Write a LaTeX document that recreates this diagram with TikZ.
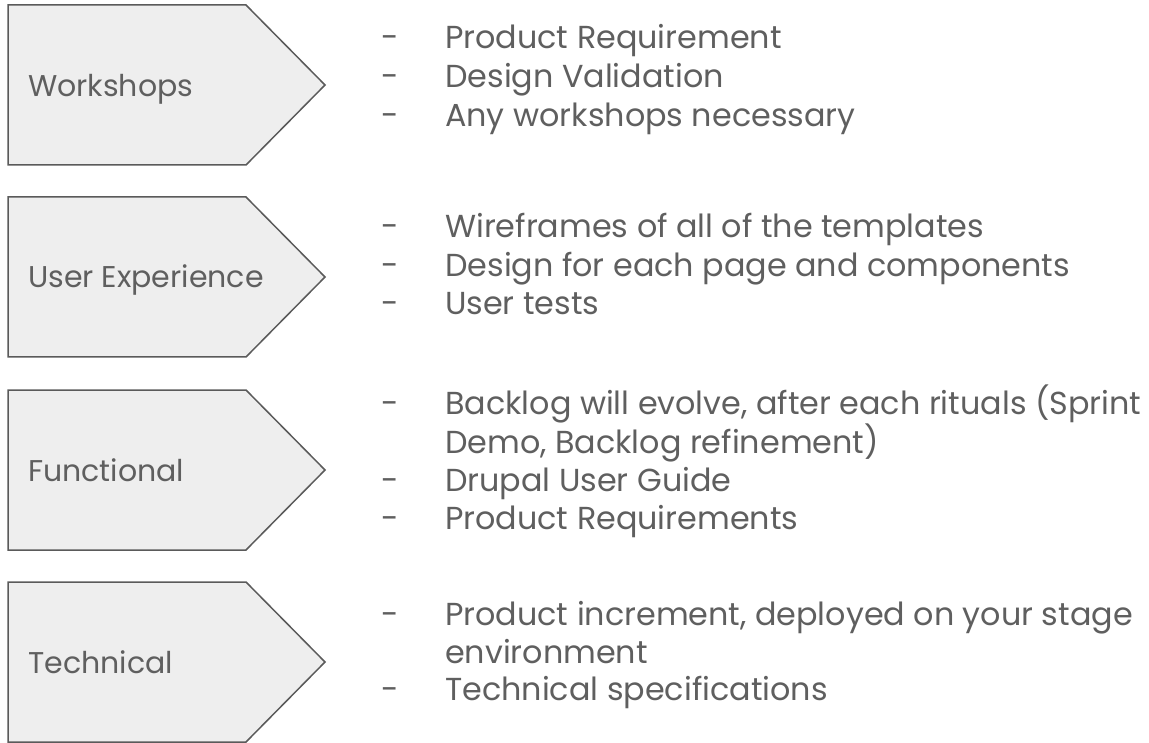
\documentclass[tikz,border=0pt]{standalone}
\usepackage{fontspec}
\setmainfont{Poppins}
\definecolor{txt}{HTML}{5F5F5F}
\definecolor{boxfill}{HTML}{EEEEEE}
\definecolor{boxline}{HTML}{5A5A5A}
\tikzset{
  phase/.style={draw=boxline, fill=boxfill, line width=1.5pt, line join=miter},
  lbl/.style={anchor=base west, inner sep=0pt, text=txt, font=\fontsize{30}{36}\selectfont},
  item/.style={anchor=base west, inner sep=0pt, text=txt, font=\fontsize{31.8}{38}\selectfont},
  dsh/.style={anchor=base, inner sep=0pt, text=txt, font=\fontsize{31.8}{38}\selectfont},
}
\begin{document}
\begin{tikzpicture}[x=1pt,y=-1pt]
\useasboundingbox (0,0) rectangle (1149,743);
% boxes
\foreach \t/\n in {5/a,197/b,390/c,582/d}{
  \draw[phase] (8,\t) -- (246,\t) -- (325,\t+80) -- (246,\t+160) -- (8,\t+160) -- cycle;
}
\node[lbl] (la) at (28,97) {Workshops};
\node[lbl] (lb) at (28,288) {User Experience};
\node[lbl] (lc) at (28,481) {Functional};
\node[lbl] (ld) at (28,673) {Technical};
% list 1
\node[dsh] (d1a) at (390,49) {-};
\node[item] (t1a) at (445,49) {Product Requirement};
\node[dsh] (d1b) at (390,88) {-};
\node[item] (t1b) at (445,88) {Design Validation};
\node[dsh] (d1c) at (390,127) {-};
\node[item] (t1c) at (445,127) {Any workshops necessary};
% list 2
\node[dsh] (d2a) at (390,238) {-};
\node[item] (t2a) at (445,238) {Wireframes of all of the templates};
\node[dsh] (d2b) at (390,277) {-};
\node[item] (t2b) at (445,277) {Design for each page and components};
\node[dsh] (d2c) at (390,315) {-};
\node[item] (t2c) at (445,315) {User tests};
% list 3
\node[dsh] (d3a) at (390,414) {-};
\node[item] (t3a) at (445,414) {Backlog will evolve, after each rituals (Sprint};
\node[item] (t3b) at (445,453) {Demo, Backlog refinement)};
\node[dsh] (d3c) at (390,491) {-};
\node[item] (t3c) at (445,491) {Drupal User Guide};
\node[dsh] (d3d) at (390,529) {-};
\node[item] (t3d) at (445,529) {Product Requirements};
% list 4
\node[dsh] (d4a) at (390,625) {-};
\node[item] (t4a) at (445,625) {Product increment, deployed on your stage};
\node[item] (t4b) at (445,663) {environment};
\node[dsh] (d4c) at (390,700) {-};
\node[item] (t4c) at (445,700) {Technical specifications};
\end{tikzpicture}
\end{document}
